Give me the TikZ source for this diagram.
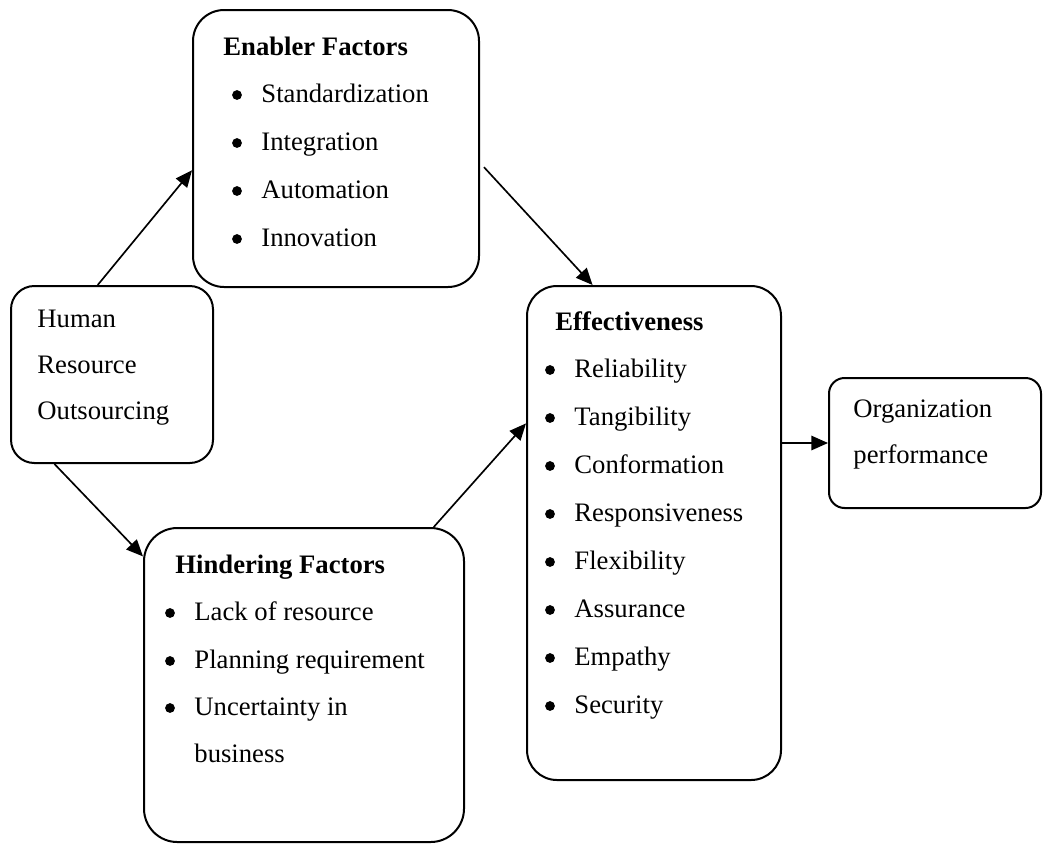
\documentclass[tikz,border=0pt]{standalone}
\usepackage{fontspec}
\setmainfont{Liberation Serif}
\usetikzlibrary{arrows.meta,calc,fit}
% one bulleted list entry: name, x, baseline y, text
\newcommand\listentry[4]{%
  \node[txt] (#1) at (#2,#3) {#4};
  \fill ($(#1.base west)+(-24,-7)$) circle (2.2pt);}
\begin{document}
\begin{tikzpicture}[x=0.45pt,y=-0.45pt,
  box/.style={draw,line width=0.9pt,inner sep=0pt,rectangle},
  txt/.style={anchor=base west,inner sep=0pt,font=\fontsize{12}{14}\selectfont},
  head/.style={txt,font=\fontsize{12}{14}\selectfont\bfseries},
  arr/.style={line width=0.75pt,-{Triangle[length=7.5pt,width=6.5pt]}}]
\useasboundingbox (0,0) rectangle (1043,844);

% boxes
\node[box,rounded corners=14pt,fit={(193,10) (479,287)}] (en) {};
\node[box,rounded corners=10.5pt,fit={(11,286) (213,463)}] (hro) {};
\node[box,rounded corners=15pt,fit={(144,528) (464,842)}] (hin) {};
\node[box,rounded corners=13.5pt,fit={(527,286) (781,780)}] (eff) {};
\node[box,rounded corners=7pt,fit={(829,378) (1041,508)}] (org) {};

% enabler factors
\node[head] (enT) at (223,55) {Enabler Factors};
\listentry{en1}{261}{102}{Standardization}
\listentry{en2}{261}{150}{Integration}
\listentry{en3}{261}{198}{Automation}
\listentry{en4}{261}{246}{Innovation}

% human resource outsourcing
\node[txt] (hro1) at (37,327) {Human};
\node[txt] (hro2) at (37,373) {Resource};
\node[txt] (hro3) at (37,419) {Outsourcing};

% hindering factors
\node[head] (hinT) at (175,573) {Hindering Factors};
\listentry{hin1}{194}{620}{Lack of resource}
\listentry{hin2}{194}{668}{Planning requirement}
\listentry{hin3}{194}{715}{Uncertainty in}
\node[txt] (hin4) at (194,762) {business};

% effectiveness
\node[head] (effT) at (555,330) {Effectiveness};
\listentry{eff1}{574}{377}{Reliability}
\listentry{eff2}{574}{425}{Tangibility}
\listentry{eff3}{574}{473}{Conformation}
\listentry{eff4}{574}{521}{Responsiveness}
\listentry{eff5}{574}{569}{Flexibility}
\listentry{eff6}{574}{617}{Assurance}
\listentry{eff7}{574}{665}{Empathy}
\listentry{eff8}{574}{713}{Security}

% organization performance
\node[txt] (org1) at (853,417) {Organization};
\node[txt] (org2) at (853,463) {performance};

% connectors
\draw[arr] ($(hro.north west)!0.43!(hro.north east)$) -- ($(en.north west)!0.578!(en.south west)$);
\draw[arr] ($(en.north east)!0.567!(en.south east)+(4,0)$) -- ($(eff.north west)!0.26!(eff.north east)$);
\draw[arr] ($(hro.south west)!0.218!(hro.south east)$) -- ($(hin.north west)!0.093!(hin.south west)$);
\draw[arr] ($(hin.north west)!0.903!(hin.north east)$) -- ($(eff.north west)!0.279!(eff.south west)$);
\draw[arr] (org.west -| eff.east) -- (org.west);
\end{tikzpicture}
\end{document}
